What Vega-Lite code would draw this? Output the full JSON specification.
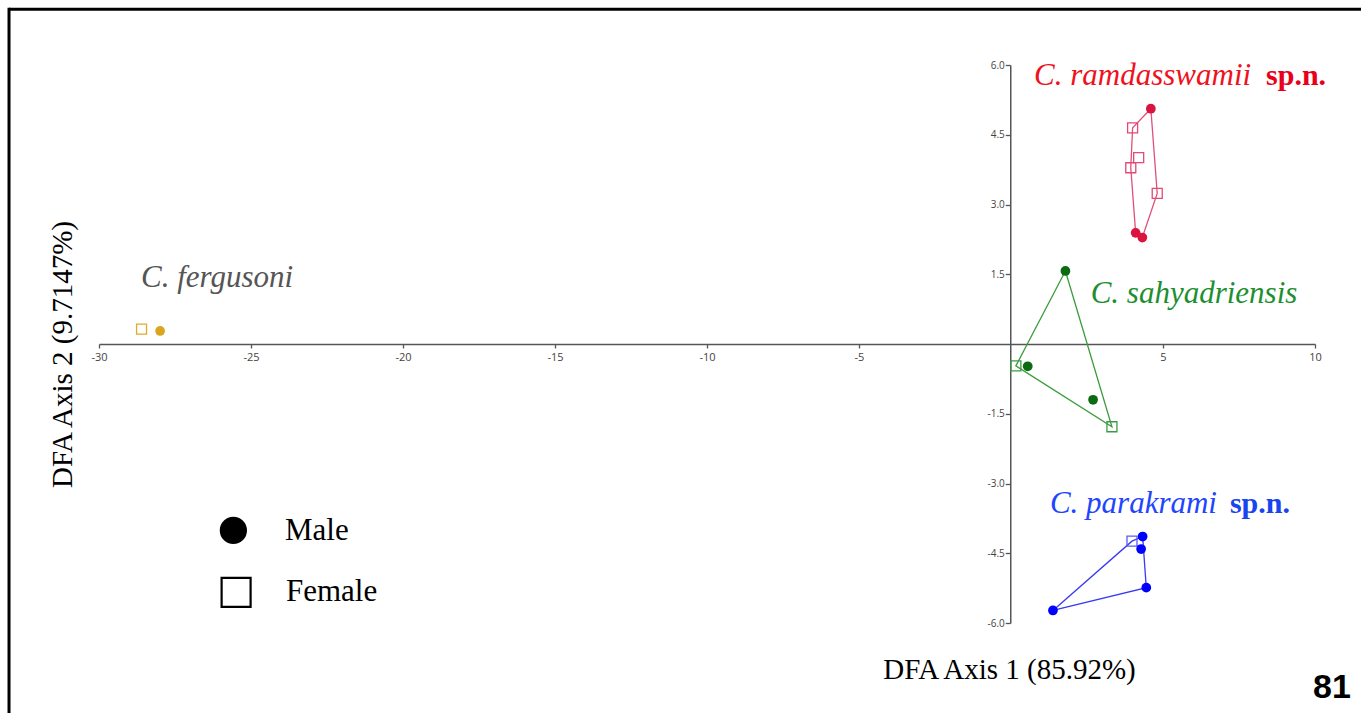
{
  "$schema": "https://vega.github.io/schema/vega-lite/v6.json",
  "width": 1216,
  "height": 558,
  "autosize": {"type": "none"},
  "padding": {"left": 99, "top": 65, "right": 46, "bottom": 90},
  "background": "white",
  "config": {"view": {"stroke": null}},
  "datasets": {
    "pts": [
      {"species": "ramdasswamii", "sex": "Male", "x": 4.60, "y": 5.06},
      {"species": "ramdasswamii", "sex": "Female", "x": 4.00, "y": 4.65},
      {"species": "ramdasswamii", "sex": "Female", "x": 4.20, "y": 4.01},
      {"species": "ramdasswamii", "sex": "Female", "x": 3.94, "y": 3.79},
      {"species": "ramdasswamii", "sex": "Female", "x": 4.81, "y": 3.24},
      {"species": "ramdasswamii", "sex": "Male", "x": 4.10, "y": 2.39},
      {"species": "ramdasswamii", "sex": "Male", "x": 4.32, "y": 2.29},
      {"species": "sahyadriensis", "sex": "Male", "x": 1.79, "y": 1.57},
      {"species": "sahyadriensis", "sex": "Female", "x": 0.16, "y": -0.47},
      {"species": "sahyadriensis", "sex": "Male", "x": 0.55, "y": -0.48},
      {"species": "sahyadriensis", "sex": "Male", "x": 2.70, "y": -1.20},
      {"species": "sahyadriensis", "sex": "Female", "x": 3.32, "y": -1.78},
      {"species": "parakrami", "sex": "Male", "x": 4.33, "y": -4.14},
      {"species": "parakrami", "sex": "Female", "x": 3.98, "y": -4.24},
      {"species": "parakrami", "sex": "Male", "x": 4.28, "y": -4.41},
      {"species": "parakrami", "sex": "Male", "x": 4.45, "y": -5.24},
      {"species": "parakrami", "sex": "Male", "x": 1.38, "y": -5.73},
      {"species": "fergusoni", "sex": "Female", "x": -28.60, "y": 0.32},
      {"species": "fergusoni", "sex": "Male", "x": -27.99, "y": 0.28}
    ],
    "hull": [
      {"species": "ramdasswamii", "k": 1, "x": 4.60, "y": 5.06},
      {"species": "ramdasswamii", "k": 2, "x": 4.00, "y": 4.65},
      {"species": "ramdasswamii", "k": 3, "x": 3.94, "y": 3.79},
      {"species": "ramdasswamii", "k": 4, "x": 4.10, "y": 2.39},
      {"species": "ramdasswamii", "k": 5, "x": 4.32, "y": 2.29},
      {"species": "ramdasswamii", "k": 6, "x": 4.81, "y": 3.24},
      {"species": "ramdasswamii", "k": 7, "x": 4.60, "y": 5.06},
      {"species": "sahyadriensis", "k": 1, "x": 1.79, "y": 1.57},
      {"species": "sahyadriensis", "k": 2, "x": 0.16, "y": -0.47},
      {"species": "sahyadriensis", "k": 3, "x": 3.32, "y": -1.78},
      {"species": "sahyadriensis", "k": 4, "x": 1.79, "y": 1.57},
      {"species": "parakrami", "k": 1, "x": 1.38, "y": -5.73},
      {"species": "parakrami", "k": 2, "x": 3.98, "y": -4.24},
      {"species": "parakrami", "k": 3, "x": 4.33, "y": -4.14},
      {"species": "parakrami", "k": 4, "x": 4.45, "y": -5.24},
      {"species": "parakrami", "k": 5, "x": 1.38, "y": -5.73}
    ],
    "labels": [
      {"species": "ramdasswamii", "text": "C. ramdasswamii", "x": 0.76, "y": 5.57},
      {"species": "sahyadriensis", "text": "C. sahyadriensis", "x": 2.62, "y": 0.89},
      {"species": "parakrami", "text": "C. parakrami", "x": 1.28, "y": -3.63},
      {"species": "fergusoni", "text": "C. fergusoni", "x": -28.62, "y": 1.23}
    ],
    "spn": [
      {"species": "ramdasswamii", "text": "sp.n.", "x": 8.39, "y": 5.57},
      {"species": "parakrami", "text": "sp.n.", "x": 7.20, "y": -3.63}
    ],
    "legend": [
      {"sex": "Male", "x": -25.58, "y": -4.01, "tx": -23.88, "ty": -4.22},
      {"sex": "Female", "x": -25.49, "y": -5.34, "tx": -23.85, "ty": -5.53}
    ],
    "page": [
      {"text": "81", "x": 11.18, "y": -7.61}
    ]
  },
  "resolve": {"scale": {"color": "independent"}},
  "layer": [
    {
      "data": {"values": [{}]},
      "mark": {"type": "rule", "color": "#000000", "strokeWidth": 3},
      "encoding": {
        "x": {"datum": -32.96, "type": "quantitative", "scale": {"domain": [-30, 10], "nice": false, "zero": false}},
        "x2": {"datum": 11.6},
        "y": {"datum": 7.2, "type": "quantitative", "scale": {"domain": [-6, 6], "nice": false, "zero": false}}
      }
    },
    {
      "data": {"values": [{}]},
      "mark": {"type": "rule", "color": "#000000", "strokeWidth": 3},
      "encoding": {
        "x": {"datum": -32.96, "type": "quantitative"},
        "y": {"datum": 7.23, "type": "quantitative"},
        "y2": {"datum": -8.0}
      }
    },
    {
      "data": {"name": "hull"},
      "mark": {"type": "line", "strokeWidth": 1.3},
      "encoding": {
        "x": {
          "field": "x", "type": "quantitative",
          "scale": {"domain": [-30, 10], "nice": false, "zero": false},
          "axis": {
            "orient": "bottom", "offset": -279,
            "values": [-30, -25, -20, -15, -10, -5, 5, 10],
            "labelExpr": "replace(datum.label, '\u2212', '-')",
            "labelFlush": false,
            "labelOverlap": false,
            "grid": false,
            "domainColor": "#555555", "domainWidth": 1.5,
            "tickColor": "#555555", "tickSize": 4, "tickWidth": 1.3,
            "labelFont": "Open Sans", "labelFontSize": 11, "labelColor": "#444444", "labelPadding": 3,
            "title": "DFA Axis 1 (85.92%)",
            "titleFont": "Liberation Serif", "titleFontSize": 29, "titleFontWeight": "normal", "titleColor": "#000000",
            "titleX": 910, "titleY": 334, "titleAlign": "center", "titleBaseline": "alphabetic", "titleAngle": 0
          }
        },
        "y": {
          "field": "y", "type": "quantitative",
          "scale": {"domain": [-6, 6], "nice": false, "zero": false},
          "axis": {
            "orient": "left", "offset": -911.25,
            "values": [-6, -4.5, -3, -1.5, 1.5, 3, 4.5, 6],
            "format": ".1f",
            "labelExpr": "replace(datum.label, '\u2212', '-')",
            "labelFlush": false,
            "labelOverlap": false,
            "grid": false,
            "domainColor": "#555555", "domainWidth": 1.5,
            "tickColor": "#555555", "tickSize": 5, "tickWidth": 1.3,
            "labelFont": "Open Sans", "labelFontSize": 10, "labelColor": "#444444", "labelPadding": 1,
            "title": "DFA Axis 2 (9.7147%)",
            "titleFont": "Liberation Serif", "titleFontSize": 29, "titleFontWeight": "normal", "titleColor": "#000000",
            "titleX": -948, "titleY": 289, "titleAlign": "center", "titleBaseline": "middle", "titleAngle": -90
          }
        },
        "order": {"field": "k", "type": "quantitative"},
        "color": {
          "field": "species", "type": "nominal", "legend": null,
          "scale": {"domain": ["ramdasswamii", "sahyadriensis", "parakrami"], "range": ["#e0507a", "#3c9c3c", "#3a3af0"]}
        }
      }
    },
    {
      "data": {"name": "pts"},
      "transform": [{"filter": "datum.sex === 'Female'"}],
      "mark": {"type": "point", "shape": "square", "filled": false, "size": 100, "strokeWidth": 1.3, "opacity": 1},
      "encoding": {
        "x": {"field": "x", "type": "quantitative"},
        "y": {"field": "y", "type": "quantitative"},
        "color": {
          "field": "species", "type": "nominal", "legend": null,
          "scale": {"domain": ["ramdasswamii", "sahyadriensis", "parakrami", "fergusoni"], "range": ["#e04a74", "#3a9a48", "#5a5af5", "#e0aa2a"]}
        }
      }
    },
    {
      "data": {"name": "pts"},
      "transform": [{"filter": "datum.sex === 'Male'"}],
      "mark": {"type": "circle", "size": 95, "opacity": 1},
      "encoding": {
        "x": {"field": "x", "type": "quantitative"},
        "y": {"field": "y", "type": "quantitative"},
        "color": {
          "field": "species", "type": "nominal", "legend": null,
          "scale": {"domain": ["ramdasswamii", "sahyadriensis", "parakrami", "fergusoni"], "range": ["#d9143f", "#0b6b12", "#0000ff", "#daa520"]}
        }
      }
    },
    {
      "data": {"name": "labels"},
      "mark": {"type": "text", "font": "Liberation Serif", "fontStyle": "italic", "fontSize": 31, "align": "left", "baseline": "alphabetic"},
      "encoding": {
        "x": {"field": "x", "type": "quantitative"},
        "y": {"field": "y", "type": "quantitative"},
        "text": {"field": "text"},
        "color": {
          "field": "species", "type": "nominal", "legend": null,
          "scale": {"domain": ["ramdasswamii", "sahyadriensis", "parakrami", "fergusoni"], "range": ["#f01020", "#1e8f30", "#2244ff", "#555555"]}
        }
      }
    },
    {
      "data": {"name": "spn"},
      "mark": {"type": "text", "font": "Liberation Serif", "fontWeight": "bold", "fontSize": 30, "align": "left", "baseline": "alphabetic"},
      "encoding": {
        "x": {"field": "x", "type": "quantitative"},
        "y": {"field": "y", "type": "quantitative"},
        "text": {"field": "text"},
        "color": {
          "field": "species", "type": "nominal", "legend": null,
          "scale": {"domain": ["ramdasswamii", "parakrami"], "range": ["#e8001a", "#1a44ee"]}
        }
      }
    },
    {
      "data": {"name": "legend"},
      "transform": [{"filter": "datum.sex === 'Male'"}],
      "mark": {"type": "circle", "size": 740, "color": "#000000", "opacity": 1},
      "encoding": {
        "x": {"field": "x", "type": "quantitative"},
        "y": {"field": "y", "type": "quantitative"}
      }
    },
    {
      "data": {"name": "legend"},
      "transform": [{"filter": "datum.sex === 'Female'"}],
      "mark": {"type": "point", "shape": "square", "filled": false, "size": 840, "strokeWidth": 2.2, "color": "#000000", "opacity": 1},
      "encoding": {
        "x": {"field": "x", "type": "quantitative"},
        "y": {"field": "y", "type": "quantitative"}
      }
    },
    {
      "data": {"name": "legend"},
      "mark": {"type": "text", "font": "Liberation Serif", "fontSize": 31, "align": "left", "baseline": "alphabetic", "color": "#000000"},
      "encoding": {
        "x": {"field": "tx", "type": "quantitative"},
        "y": {"field": "ty", "type": "quantitative"},
        "text": {"field": "sex"}
      }
    },
    {
      "data": {"name": "page"},
      "mark": {"type": "text", "font": "Liberation Sans", "fontWeight": "bold", "fontSize": 34, "align": "right", "baseline": "alphabetic", "color": "#000000"},
      "encoding": {
        "x": {"field": "x", "type": "quantitative"},
        "y": {"field": "y", "type": "quantitative"},
        "text": {"field": "text"}
      }
    }
  ]
}
